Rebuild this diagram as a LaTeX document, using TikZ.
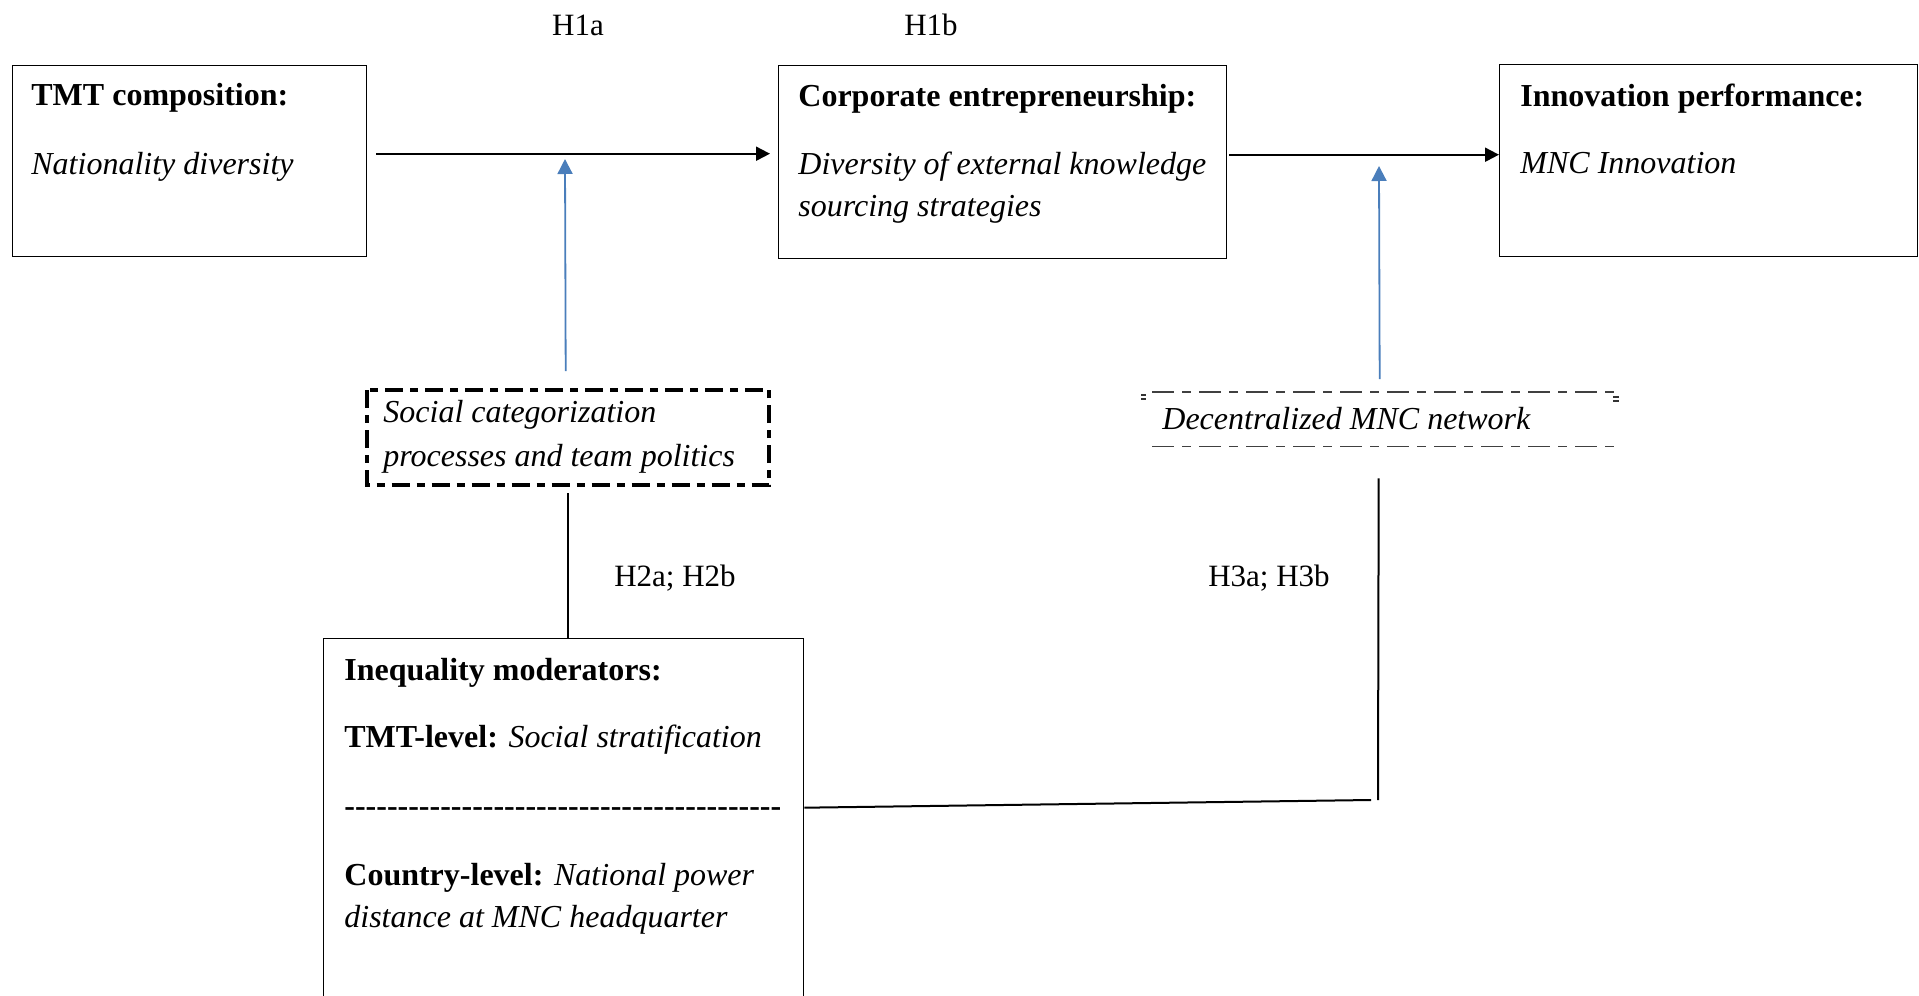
\documentclass[tikz,border=0pt]{standalone}
\usepackage{fontspec}
\setmainfont{Liberation Serif}
\usetikzlibrary{arrows.meta}
\definecolor{arrowblue}{RGB}{74,126,187}
\begin{document}
\begin{tikzpicture}[x=0.5pt,y=-0.5pt,
  box/.style={draw=black,line width=0.7pt,inner sep=0pt,anchor=north west},
  txt/.style={anchor=base west,inner sep=0pt,font=\fontsize{16}{20}\selectfont},
  lbl/.style={anchor=base,inner sep=0pt,font=\fontsize{15.5}{19}\selectfont},
  mainarrow/.style={line width=1pt,-{Triangle[length=7pt,width=7pt]}},
  modarrow/.style={draw=arrowblue,line width=0.9pt,-{Triangle[length=7.5pt,width=7.5pt]}},
  link/.style={line width=1pt},
  socdash/.style={line width=2pt,dash pattern=on 9pt off 3.5pt on 4pt off 3.5pt},
  decdash/.style={draw=black!75,line width=0.8pt,dash pattern=on 11pt off 4pt on 4.5pt off 4pt}]
\useasboundingbox (0,0) rectangle (1919,996);

% boxes
\node[box,minimum width=177pt,minimum height=95.5pt] (tmt) at (12,65) {};
\node[box,minimum width=224pt,minimum height=96.5pt] (corp) at (778,65) {};
\node[box,minimum width=209pt,minimum height=96pt] (innov) at (1499,64) {};
\node[box,draw=none,minimum width=200.5pt,minimum height=47pt] (social) at (367,390) {};
\draw[socdash] (social.north west) rectangle (social.south east);
\node[box,draw=none,minimum width=233pt,minimum height=26.5pt] (dec) at (1152,392) {};
\draw[decdash] (dec.north west) -- (dec.north east);
\draw[decdash] (dec.south west) -- (dec.south east);
\fill[black!80] (1141,394) rectangle (1146,396);
\fill[black!80] (1141,397.5) rectangle (1146,399.5);
\fill[black!80] (1613,396) rectangle (1619,398);
\fill[black!80] (1613,399.5) rectangle (1619,401.5);
\node[box,minimum width=240pt,minimum height=186pt] (ineq) at (323,638) {};

% texts
\node[txt] (t1) at (31,105) {\textbf{TMT composition:}};
\node[txt] (t2) at (31,174) {\textit{Nationality diversity}};
\node[txt] (c1) at (798,106) {\textbf{Corporate entrepreneurship:}};
\node[txt] (c2) at (798,174) {\textit{Diversity of external knowledge}};
\node[txt] (c3) at (798,216) {\textit{sourcing strategies}};
\node[txt] (i1) at (1520,106) {\textbf{Innovation performance:}};
\node[txt] (i2) at (1520,173) {\textit{MNC Innovation}};
\node[txt] (s1) at (383,422) {\textit{Social categorization}};
\node[txt] (s2) at (383,466) {\textit{processes and team politics}};
\node[txt] (d1) at (1162,429) {\textit{Decentralized MNC network}};
\node[txt] (q1) at (344,680) {\textbf{Inequality moderators:}};
\node[txt] (q2) at (344,747) {\textbf{TMT-level:} \textit{Social stratification}};
\node[txt] (q3) at (344,816) {\bfseries\foreach \i in {1,...,41}{-\kern0pt}};
\node[txt] (q4) at (344,885) {\textbf{Country-level:} \textit{National power}};
\node[txt] (q5) at (344,927) {\textit{distance at MNC headquarter}};

% labels
\node[lbl] (h1a) at (578,35) {H1a};
\node[lbl] (h1b) at (931,35) {H1b};
\node[lbl] (h2) at (675,586) {H2a; H2b};
\node[lbl] (h3) at (1269,586) {H3a; H3b};

% connectors
\draw[mainarrow] ([xshift=4.5pt,yshift=3.75pt]tmt.east) -- ([xshift=-4pt,yshift=4.25pt]corp.west);
\draw[mainarrow] ([xshift=1pt,yshift=3.75pt]corp.east) -- ([yshift=3pt]innov.west);
\coordinate (m1) at (565,159);
\coordinate (m2) at (1379,166);
\draw[modarrow] ([xshift=-1.25pt,yshift=9.5pt]social.north) -- (m1);
\draw[modarrow] ([xshift=-3pt,yshift=6.5pt]dec.north) -- (m2);
\draw[link] ([yshift=-4pt]social.south) -- (social.south |- ineq.north);
\coordinate (k1) at (1378,800);
\coordinate (k2) at (1371,800);
\draw[link] ([xshift=-3.5pt,yshift=-16pt]dec.south) -- (k1);
\draw[link] ([yshift=8.5pt]ineq.east) -- (k2);
\end{tikzpicture}
\end{document}
